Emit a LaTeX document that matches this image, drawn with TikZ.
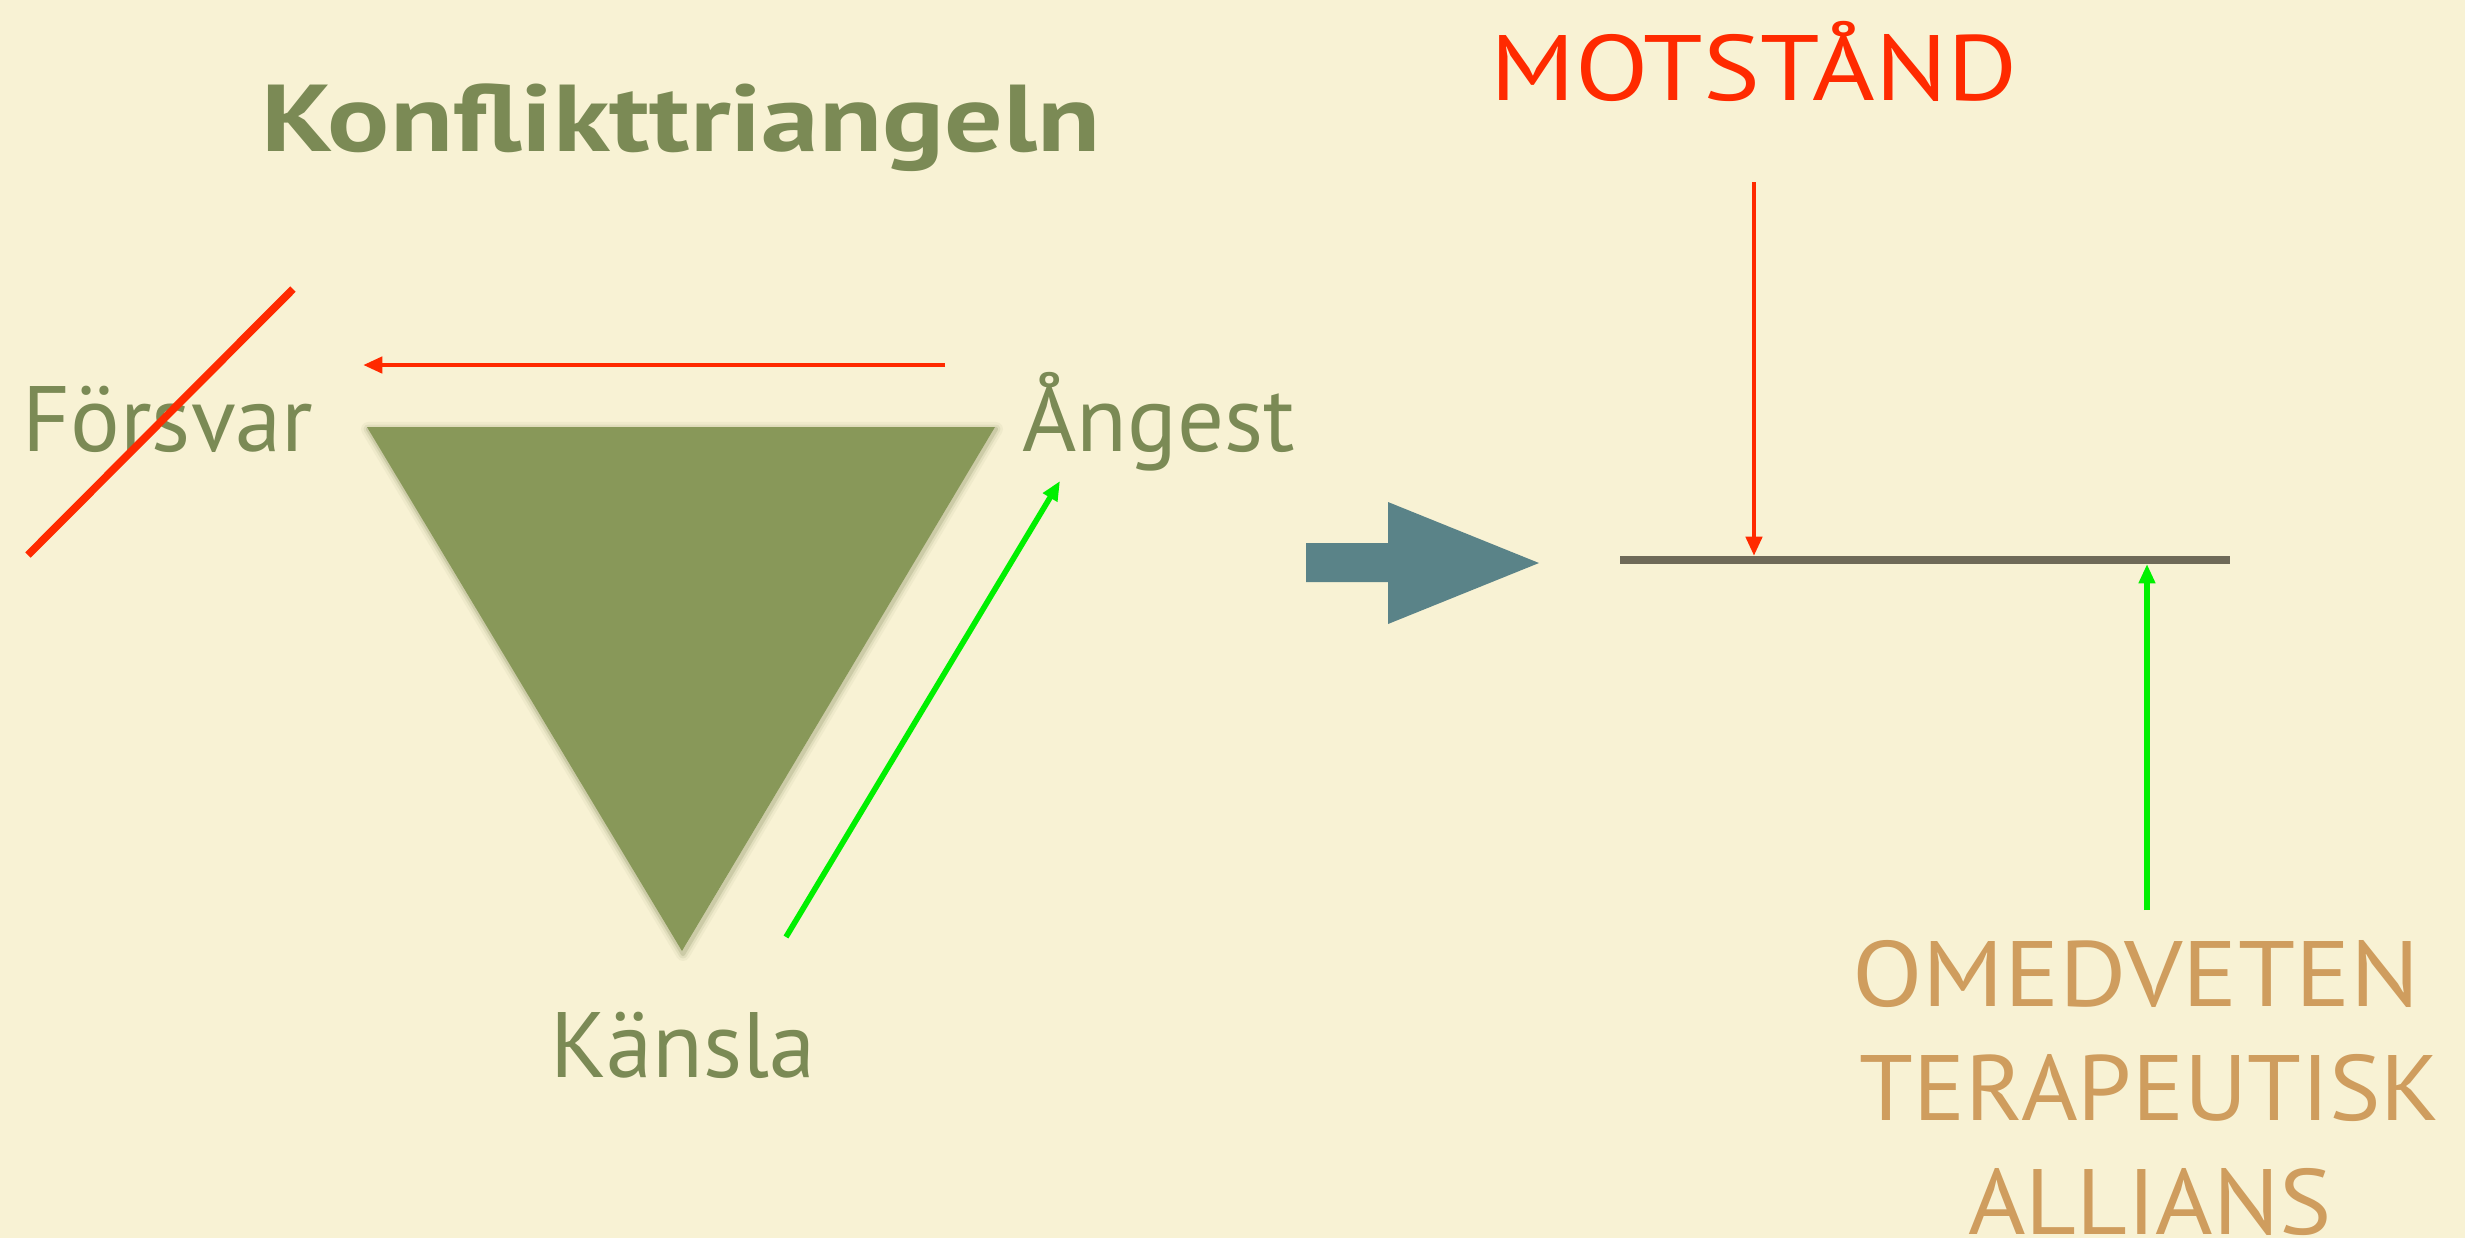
\documentclass[tikz,border=0pt]{standalone}
\usepackage{fontspec}
\setmainfont{PT Sans}
\usetikzlibrary{arrows.meta}
\definecolor{bg}{HTML}{F8F2D4}
\definecolor{olive}{HTML}{7B8A55}
\definecolor{trifill}{HTML}{889859}
\definecolor{trishadow}{HTML}{6E7A48}
\definecolor{redc}{HTML}{FF2A00}
\definecolor{greenc}{HTML}{00F000}
\definecolor{tealc}{HTML}{5A8388}
\definecolor{barc}{HTML}{6F6A58}
\definecolor{tanc}{HTML}{CF9D5E}
\begin{document}
\begin{tikzpicture}[x=0.01cm,y=-0.01cm,
  lbl/.style={font=\fontsize{26.4}{30}\selectfont, inner sep=0pt, anchor=base, text=olive},
  ttl/.style={font=\fontsize{27}{30}\selectfont\bfseries, inner sep=0pt, anchor=base, text=olive},
  motst/.style={font=\fontsize{26.4}{30}\selectfont, inner sep=0pt, anchor=base, text=redc},
  alli/.style={font=\fontsize{26.4}{30}\selectfont, inner sep=0pt, anchor=base, text=tanc},
  redarrow/.style={draw=redc, line width=1.4pt, -{Triangle[length=5.5pt,width=4.5pt]}},
  greenarrow/.style={draw=greenc, line width=1.6pt, -{Triangle[length=5.5pt,width=4.5pt]}},
  strike/.style={draw=redc, line width=2.2pt},
  barline/.style={draw=barc, line width=2.3pt}
]
\fill[bg] (0,0) rectangle (2465,1238);
\useasboundingbox (0,0) rectangle (2465,1238);

% title
\node[ttl] (title) at (681,151) {\scalebox{1.22}[1.0]{Konflikttriangeln}};

% triangle
\coordinate (tl) at (367,427);
\coordinate (tr) at (995,427);
\coordinate (tb) at (682,951);
\foreach \w/\o in {4pt/0.06, 2.5pt/0.10, 1.2pt/0.18}
  \draw[trishadow, line width=\w, opacity=\o, line join=round] ([shift={(1,2)}]tl) -- ([shift={(1,2)}]tr) -- ([shift={(1,3)}]tb) -- cycle;
\fill[trifill] (tl) -- (tr) -- (tb) -- cycle;

% labels
\node[lbl] (forsvar) at (168,451) {Försvar};
\node[lbl] (angest) at (1159,451) {Ångest};
\node[lbl] (kansla) at (683,1077) {Känsla};

% strike through Försvar
\coordinate (s1) at (293,289);
\coordinate (s2) at (28,555);
\draw[strike] (s1) -- (s2);

% red arrow Ångest -> Försvar
\coordinate (ra1) at (945,365);
\coordinate (ra2) at (363,365);
\draw[redarrow] (ra1) -- (ra2);

% green arrow Känsla -> Ångest
\coordinate (ga1) at (786,937);
\coordinate (ga2) at (1060,481);
\draw[greenarrow] (ga1) -- (ga2);

% block arrow
\fill[tealc] (1306,543) -- (1388,543) -- (1388,502) -- (1539,563) -- (1388,624) -- (1388,582) -- (1306,582) -- cycle;

% bar
\coordinate (b1) at (1620,560);
\coordinate (b2) at (2230,560);
\draw[barline] (b1) -- (b2);

% MOTSTAND
\node[motst] (mot) at (1754,100) {\scalebox{1.155}[1.0]{MOTSTÅND}};
\coordinate (m1) at (1754,182);
\coordinate (m2) at (1754,556);
\draw[redarrow] (m1) -- (m2);

% allians
\node[alli] (om1) at (2136,1006) {\scalebox{1.11}[1.0]{OMEDVETEN}};
\node[alli] (om2) at (2150,1120) {\scalebox{1.045}[1.0]{TERAPEUTISK}};
\node[alli] (om3) at (2150,1234) {\scalebox{1.06}[1.0]{ALLIANS}};
\coordinate (g1) at (2147,910);
\coordinate (g2) at (2147,564);
\draw[greenarrow] (g1) -- (g2);
\end{tikzpicture}
\end{document}
